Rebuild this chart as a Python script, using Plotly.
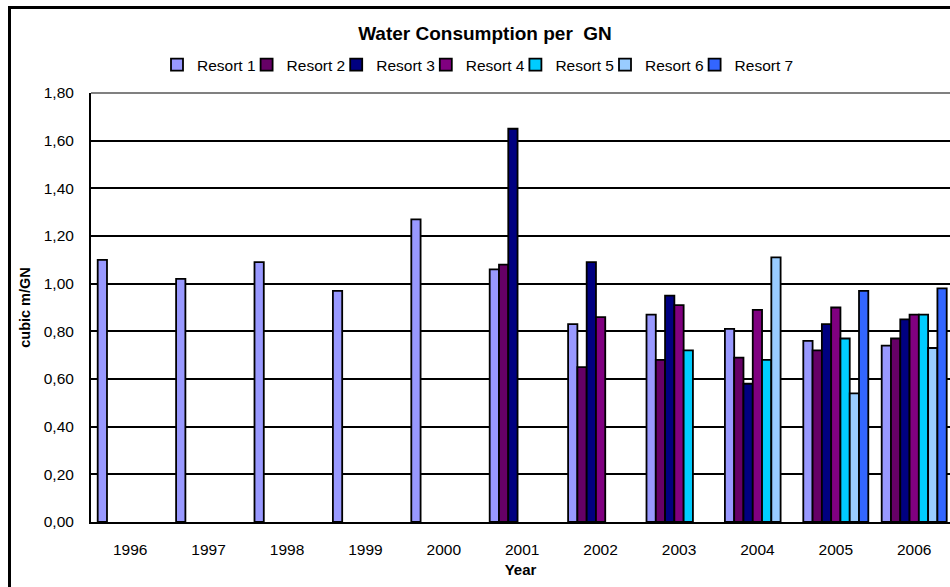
import plotly.graph_objects as go

# Water consumption per GN (cubic metres) by year and resort
years = ["1996", "1997", "1998", "1999", "2000", "2001",
         "2002", "2003", "2004", "2005", "2006"]

resort_1 = [1.10, 1.02, 1.09, 0.97, 1.27, 1.06, 0.83, 0.87, 0.81, 0.76, 0.74]
resort_2 = [None, None, None, None, None, 1.08, 0.65, 0.68, 0.69, 0.72, 0.77]
resort_3 = [None, None, None, None, None, 1.65, 1.09, 0.95, 0.58, 0.83, 0.85]
resort_4 = [None, None, None, None, None, None, 0.86, 0.91, 0.89, 0.90, 0.87]
resort_5 = [None, None, None, None, None, None, None, 0.72, 0.68, 0.77, 0.87]
resort_6 = [None, None, None, None, None, None, None, None, 1.11, 0.54, 0.73]
resort_7 = [None, None, None, None, None, None, None, None, None, 0.97, 0.98]

series_names = ["Resort 1", "Resort 2", "Resort 3", "Resort 4",
                "Resort 5", "Resort 6", "Resort 7"]
series_values = [resort_1, resort_2, resort_3, resort_4,
                 resort_5, resort_6, resort_7]
series_colors = ["#9999FF", "#660066", "#000080", "#800080",
                 "#00CCFF", "#99CCFF", "#3366FF"]

y_ticks = [0.0, 0.2, 0.4, 0.6, 0.8, 1.0, 1.2, 1.4, 1.6, 1.8]

FONT = "Liberation Sans, Arial, sans-serif"
W, H = 950, 587
M_L, M_R, M_T, M_B = 91, 0, 93, 65
PLOT_W = W - M_L - M_R
PLOT_H = H - M_T - M_B
CAT_PX = 78.4  # width of one year slot in pixels


def px_x(px):
    return (px - M_L) / PLOT_W


def px_y(px):
    return (H - M_B - px) / PLOT_H


fig = go.Figure()
for i, (name, vals, col) in enumerate(zip(series_names, series_values,
                                          series_colors)):
    fig.add_trace(go.Bar(
        x=years, y=vals, name=name,
        marker=dict(color=col, line=dict(color="#000000", width=1.8)),
        # last legend entry gets room for its full label
        legendwidth=70 if i == len(series_names) - 1 else None,
    ))

fig.update_layout(
    width=W, height=H,
    margin=dict(l=M_L, r=M_R, t=M_T, b=M_B, autoexpand=False),
    paper_bgcolor="white", plot_bgcolor="white",
    barmode="group", bargap=0.171, bargroupgap=0,
    separators=",.",
    font=dict(family=FONT, size=15.5, color="#000000"),
    title=dict(
        text="<b>Water Consumption per \u00a0GN</b>",
        x=485 / W, xref="container", xanchor="center",
        y=1 - 33 / H, yref="container", yanchor="middle",
        font=dict(family=FONT, size=19, color="#000000"),
    ),
    showlegend=True,
    legend=dict(
        orientation="h",
        x=px_x(157), xanchor="left",
        y=px_y(65), yanchor="middle",
        entrywidth=44.6, entrywidthmode="pixels",
        itemwidth=30, itemclick=False,
        font=dict(family=FONT, size=15.5, color="#000000"),
        bgcolor="rgba(0,0,0,0)", borderwidth=0,
        traceorder="normal",
    ),
    xaxis=dict(
        type="category",
        range=[-0.5, PLOT_W / CAT_PX - 0.5],
        showgrid=False, zeroline=False,
        showline=True, linecolor="#000000", linewidth=2,
        ticks="", ticklabelstandoff=12,
        tickfont=dict(family=FONT, size=15.5, color="#000000"),
        title=dict(text="<b>Year</b>", standoff=8,
                   font=dict(family=FONT, size=15, color="#000000")),
        automargin=False, fixedrange=True,
    ),
    yaxis=dict(
        range=[0, 1.8],
        tickvals=y_ticks, tickformat=".2f",
        showgrid=True, gridcolor="#000000", gridwidth=1.6,
        zeroline=False,
        showline=True, linecolor="#000000", linewidth=2,
        ticks="", ticklabelstandoff=12,
        tickfont=dict(family=FONT, size=15.5, color="#000000"),
        title=dict(text="<b>cubic m/GN</b>", standoff=10,
                   font=dict(family=FONT, size=14.5, color="#000000")),
        automargin=False, fixedrange=True,
    ),
    shapes=[
        # grey top edge of the plot area
        dict(type="line", xref="x domain", yref="y domain",
             x0=0, x1=1, y0=1, y1=1,
             line=dict(color="#808080", width=2), layer="above"),
        # outer chart frame
        dict(type="rect", xref="paper", yref="paper",
             x0=px_x(9.5), x1=px_x(W + 20), y0=px_y(7.5), y1=px_y(H + 20),
             line=dict(color="#000000", width=3), fillcolor="rgba(0,0,0,0)",
             layer="above"),
    ],
)

fig.write_html("out.html", config={"displayModeBar": False})
